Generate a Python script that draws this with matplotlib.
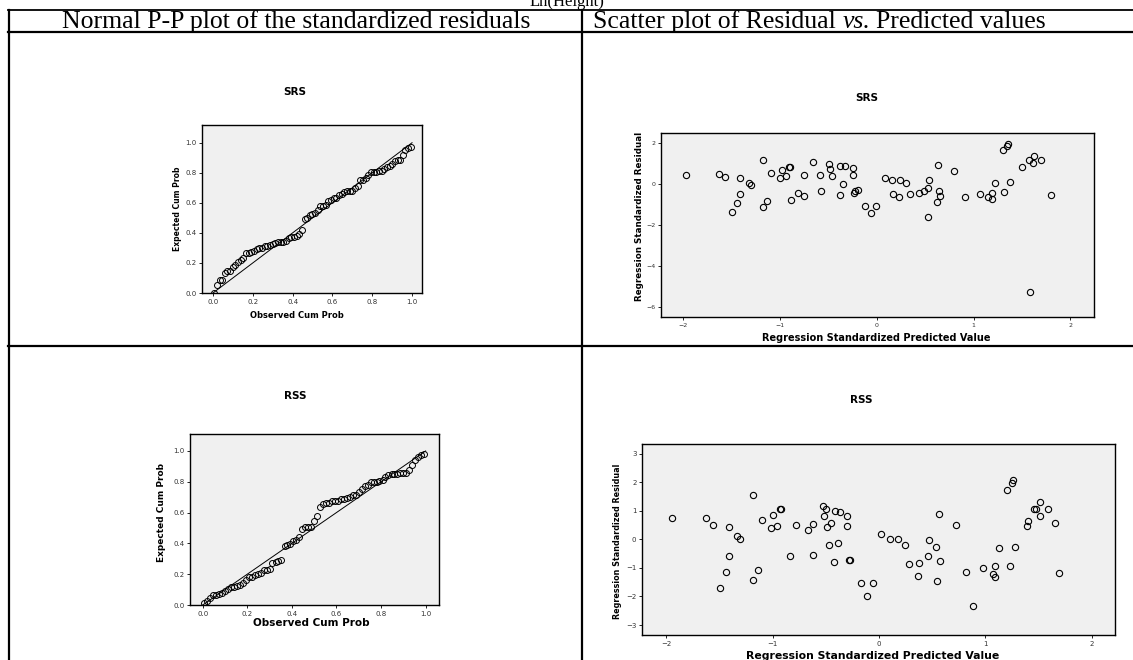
import matplotlib
matplotlib.use("Agg")
import matplotlib.pyplot as plt

W, H = 1133, 660

# SRS: regression standardized predicted value / residual
srs_pred = [-1.97, -1.63, -1.57, -1.50, -1.44, -1.41, -1.41, -1.32, -1.30, -1.18,
            -1.18, -1.13, -1.09, -1.00, -0.98, -0.94, -0.91, -0.90, -0.89, -0.81,
            -0.75, -0.75, -0.66, -0.59, -0.58, -0.49, -0.48, -0.46, -0.38, -0.38,
            -0.35, -0.33, -0.25, -0.25, -0.24, -0.23, -0.19, -0.12, -0.06, -0.01,
            0.08, 0.16, 0.17, 0.24, 0.23, 0.30, 0.34, 0.44, 0.49, 0.53,
            0.54, 0.53, 0.62, 0.63, 0.64, 0.65, 0.80, 0.91, 1.07, 1.15,
            1.19, 1.19, 1.22, 1.30, 1.35, 1.36, 1.32, 1.38, 1.50, 1.57,
            1.62, 1.61, 1.70, 1.80, 1.58]
srs_resid = [0.47, 0.52, 0.34, -1.37, -0.93, 0.29, -0.49, 0.07, -0.02, 1.20,
             -1.12, -0.81, 0.55, 0.31, 0.68, 0.39, 0.86, 0.85, -0.78, -0.41,
             0.44, -0.59, 1.07, 0.47, -0.34, 0.99, 0.73, 0.41, -0.52, 0.88,
             0.00, 0.88, 0.78, 0.47, -0.44, -0.31, -0.28, -1.06, -1.38, -1.06,
             0.33, 0.20, -0.46, 0.20, -0.63, 0.05, -0.47, -0.42, -0.33, -0.20,
             0.21, -1.61, -0.88, 0.93, -0.33, -0.55, 0.67, -0.60, -0.49, -0.62,
             -0.41, -0.72, 0.08, 1.67, 1.85, 1.95, -0.39, 0.13, 0.85, 1.17,
             1.40, 1.02, 1.20, -0.52, -5.25]

# RSS
rss_pred = [-1.95, -1.63, -1.56, -1.50, -1.44, -1.41, -1.41, -1.34, -1.31, -1.19,
            -1.19, -1.14, -1.10, -1.02, -1.00, -0.96, -0.93, -0.92, -0.84, -0.78,
            -0.67, -0.62, -0.62, -0.53, -0.50, -0.52, -0.49, -0.47, -0.45, -0.42,
            -0.41, -0.39, -0.37, -0.30, -0.30, -0.28, -0.27, -0.17, -0.11, -0.06,
            0.02, 0.10, 0.18, 0.24, 0.28, 0.37, 0.38, 0.46, 0.47, 0.54,
            0.56, 0.57, 0.55, 0.72, 0.82, 0.88, 0.98, 1.07, 1.09, 1.09,
            1.13, 1.20, 1.23, 1.25, 1.26, 1.28, 1.39, 1.40, 1.46, 1.48,
            1.51, 1.51, 1.59, 1.66, 1.69]
rss_resid = [0.75, 0.76, 0.50, -1.71, -1.15, 0.42, -0.60, 0.12, 0.01, 1.56,
             -1.44, -1.06, 0.68, 0.40, 0.85, 0.46, 1.06, 1.05, -0.58, 0.50,
             0.34, 0.53, -0.55, 1.16, 1.08, 0.83, 0.42, -0.21, 0.56, -0.81,
             1.01, -0.14, 0.97, 0.83, 0.46, -0.74, -0.73, -1.53, -1.98, -1.54,
             0.20, 0.01, 0.01, -0.19, -0.87, -1.27, -0.83, -0.57, -0.02, -0.28,
             0.88, -0.75, -1.45, 0.51, -1.13, -2.33, -0.99, -1.20, -0.92, -1.32,
             -0.30, 1.73, -0.92, 1.98, 2.07, -0.27, 0.46, 0.63, 1.05, 1.08,
             0.83, 1.32, 1.05, 0.57, -1.18]

# Normal P-P plots: observed vs expected cumulative probability
obs_cum_prob = [0.007, 0.020, 0.033, 0.047, 0.060, 0.073, 0.087, 0.100, 0.113, 0.127,
                0.140, 0.153, 0.167, 0.180, 0.193, 0.207, 0.220, 0.233, 0.247, 0.260,
                0.273, 0.287, 0.300, 0.313, 0.327, 0.340, 0.353, 0.367, 0.380, 0.393,
                0.407, 0.420, 0.433, 0.447, 0.460, 0.473, 0.487, 0.500, 0.513, 0.527,
                0.540, 0.553, 0.567, 0.580, 0.593, 0.607, 0.620, 0.633, 0.647, 0.660,
                0.673, 0.687, 0.700, 0.713, 0.727, 0.740, 0.753, 0.767, 0.780, 0.793,
                0.807, 0.820, 0.833, 0.847, 0.860, 0.873, 0.887, 0.900, 0.913, 0.927,
                0.940, 0.953, 0.967, 0.980, 0.993]
srs_exp_cum_prob = [0.000, 0.054, 0.084, 0.085, 0.131, 0.145, 0.145, 0.176, 0.189, 0.209,
                    0.218, 0.236, 0.264, 0.268, 0.274, 0.278, 0.291, 0.302, 0.302, 0.312,
                    0.312, 0.319, 0.323, 0.330, 0.337, 0.341, 0.341, 0.348, 0.367, 0.371,
                    0.371, 0.378, 0.390, 0.421, 0.492, 0.500, 0.520, 0.528, 0.532, 0.552,
                    0.579, 0.579, 0.583, 0.614, 0.622, 0.629, 0.633, 0.652, 0.659, 0.670,
                    0.681, 0.681, 0.681, 0.698, 0.709, 0.749, 0.752, 0.767, 0.782, 0.802,
                    0.802, 0.805, 0.811, 0.811, 0.824, 0.839, 0.846, 0.858, 0.879, 0.885,
                    0.885, 0.919, 0.953, 0.968, 0.974]
rss_exp_cum_prob = [0.010, 0.024, 0.044, 0.062, 0.063, 0.074, 0.075, 0.093, 0.102, 0.115,
                    0.119, 0.125, 0.129, 0.145, 0.161, 0.179, 0.179, 0.192, 0.203, 0.209,
                    0.227, 0.230, 0.233, 0.274, 0.281, 0.284, 0.291, 0.382, 0.390, 0.394,
                    0.417, 0.425, 0.444, 0.492, 0.504, 0.504, 0.504, 0.548, 0.579, 0.633,
                    0.655, 0.663, 0.663, 0.677, 0.677, 0.677, 0.691, 0.691, 0.695, 0.702,
                    0.712, 0.716, 0.736, 0.752, 0.773, 0.776, 0.797, 0.797, 0.797, 0.802,
                    0.811, 0.834, 0.844, 0.853, 0.853, 0.853, 0.855, 0.860, 0.860, 0.877,
                    0.907, 0.941, 0.958, 0.976, 0.981]

pp_ticks = [0.0, 0.2, 0.4, 0.6, 0.8, 1.0]


def box(l, t, r, b):
    return [l / W, 1 - b / H, (r - l) / W, (b - t) / H]


def spss_axes(rect, tick_size):
    ax = fig.add_axes(box(*rect))
    ax.set_facecolor('#f0f0f0')
    for s in ax.spines.values():
        s.set_linewidth(1.0)
        s.set_color('black')
    ax.tick_params(direction='out', length=2.5, width=0.6, pad=1.5,
                   labelsize=tick_size, labelcolor='#333333')
    return ax


fig = plt.figure(figsize=(W / 100, H / 100), dpi=100)

# table frame and header (pixel coordinates)
ax0 = fig.add_axes([0, 0, 1, 1])
ax0.set_xlim(0, W)
ax0.set_ylim(H, 0)
ax0.axis('off')
lw = 1.6
ax0.plot([8, W], [9.5, 9.5], color='black', lw=1.3)
ax0.plot([8, W], [32, 32], color='black', lw=lw)
ax0.plot([8, W], [346, 346], color='black', lw=lw)
ax0.plot([8.5, 8.5], [9.5, H], color='black', lw=lw)
ax0.plot([582, 582], [9.5, H], color='black', lw=lw)

serif = 'Liberation Serif'
hsize = 18.5
ax0.text(567, 6, 'Ln(Height)', family=serif, fontsize=12, ha='center', va='baseline')
ax0.text(296, 28, 'Normal P-P plot of the standardized residuals', family=serif,
         fontsize=hsize, ha='center', va='baseline')

renderer = fig.canvas.get_renderer()
gap = 0.25 * hsize * 100 / 72
x = 593
for piece, style in [('Scatter plot of Residual', 'normal'), ('vs.', 'italic'),
                     ('Predicted values', 'normal')]:
    t = ax0.text(x, 28, piece, family=serif, fontsize=hsize, style=style,
                 ha='left', va='baseline')
    x = t.get_window_extent(renderer).x1 + gap

bold = dict(fontweight='bold', color='black')

# SRS normal P-P plot
ax = spss_axes((202, 125, 422, 293), 5)
ax.plot([0, 1], [0, 1], color='black', lw=0.7)
ax.plot(obs_cum_prob, srs_exp_cum_prob, 'o', mfc='none', mec='black', ms=4.3, mew=0.7)
ax.set_xlim(-0.055, 1.05)
ax.set_ylim(0, 1.118)
ax.set_xticks(pp_ticks)
ax.set_yticks(pp_ticks)
ax.set_xticklabels(['%.1f' % v for v in pp_ticks])
ax.set_yticklabels(['%.1f' % v for v in pp_ticks])
ax0.text(295, 92, 'SRS', fontsize=7.5, ha='center', va='center', **bold)
ax0.text(297, 315, 'Observed Cum Prob', fontsize=6, ha='center', va='center', **bold)
ax0.text(177, 209, 'Expected Cum Prob', fontsize=5.5, rotation=90, ha='center', va='center', **bold)

# SRS scatter
ax = spss_axes((661, 133, 1094, 317), 4.5)
ax.plot(srs_pred, srs_resid, 'o', mfc='none', mec='black', ms=4.5, mew=0.8)
ax.set_xlim(-2.23, 2.245)
ax.set_ylim(-6.47, 2.5)
ax.set_xticks([-2, -1, 0, 1, 2])
ax.set_yticks([-6, -4, -2, 0, 2])
ax0.text(867, 98, 'SRS', fontsize=7.5, ha='center', va='center', **bold)
ax0.text(876, 338, 'Regression Standardized Predicted Value', fontsize=7, ha='center', va='center', **bold)
ax0.text(639, 216, 'Regression Standardized Residual', fontsize=6.3, rotation=90, ha='center', va='center', **bold)

# RSS normal P-P plot
ax = spss_axes((190, 434, 439, 605), 5)
ax.plot([0, 1], [0, 1], color='black', lw=0.7)
ax.plot(obs_cum_prob, rss_exp_cum_prob, 'o', mfc='none', mec='black', ms=4.3, mew=0.7)
ax.set_xlim(-0.057, 1.06)
ax.set_ylim(0, 1.11)
ax.set_xticks(pp_ticks)
ax.set_yticks(pp_ticks)
ax.set_xticklabels(['%.1f' % v for v in pp_ticks])
ax.set_yticklabels(['%.1f' % v for v in pp_ticks])
ax0.text(295, 396, 'RSS', fontsize=7.5, ha='center', va='center', **bold)
ax0.text(311, 623, 'Observed Cum Prob', fontsize=7.5, ha='center', va='center', **bold)
ax0.text(162, 512, 'Expected Cum Prob', fontsize=6.5, rotation=90, ha='center', va='center', **bold)

# RSS scatter
ax = spss_axes((642, 444, 1115, 635), 5)
ax.plot(rss_pred, rss_resid, 'o', mfc='none', mec='black', ms=4.5, mew=0.8)
ax.set_xlim(-2.23, 2.22)
ax.set_ylim(-3.35, 3.34)
ax.set_xticks([-2, -1, 0, 1, 2])
ax.set_yticks([-3, -2, -1, 0, 1, 2, 3])
ax0.text(861, 400, 'RSS', fontsize=7.5, ha='center', va='center', **bold)
ax0.text(873, 656, 'Regression Standardized Predicted Value', fontsize=7.8, ha='center', va='center', **bold)
ax0.text(618, 541, 'Regression Standardized Residual', fontsize=5.8, rotation=90, ha='center', va='center', **bold)

fig.savefig('out.png', dpi=100)
